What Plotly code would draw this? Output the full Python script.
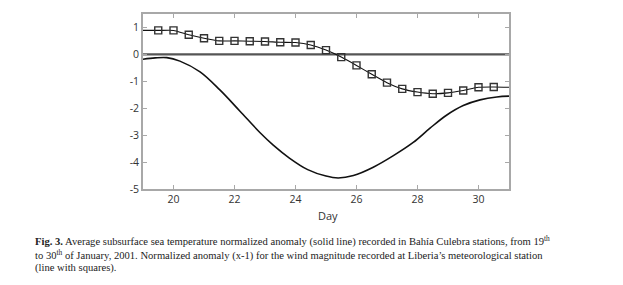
import plotly.graph_objects as go

# Solid line: average subsurface sea temperature normalized anomaly (sampled along curve)
sst_day = [19.0, 19.4, 19.78, 20.21, 20.87, 21.52, 22.18, 22.84, 23.27, 23.8, 24.4, 25.0,
           25.4, 25.9, 26.55, 27.21, 27.86, 28.41, 28.95, 29.5, 30.05, 30.6, 31.0]
sst_val = [-0.18, -0.13, -0.12, -0.25, -0.65, -1.32, -2.11, -2.91, -3.37, -3.85, -4.28, -4.52,
           -4.59, -4.50, -4.19, -3.76, -3.27, -2.74, -2.26, -1.90, -1.69, -1.58, -1.55]

# Line with squares: normalized wind magnitude anomaly (x-1)
wind_day = [19.0, 19.5, 20.0, 20.5, 21.0, 21.5, 22.0, 22.5, 23.0, 23.5, 24.0, 24.5, 25.0, 25.5,
            26.0, 26.5, 27.0, 27.5, 28.0, 28.5, 29.0, 29.5, 30.0, 30.5, 31.0]
wind_val = [0.89, 0.89, 0.89, 0.73, 0.60, 0.50, 0.50, 0.49, 0.48, 0.45, 0.44, 0.35, 0.16, -0.10,
            -0.41, -0.74, -1.05, -1.28, -1.40, -1.46, -1.43, -1.34, -1.22, -1.21, -1.22]

x_ticks = [20, 22, 24, 26, 28, 30]
y_ticks = [1, 0, -1, -2, -3, -4, -5]

caption_lines = [
    "<b>Fig. 3.</b> Average subsurface sea temperature normalized anomaly (solid line) recorded in Bahía Culebra stations, from 19<sup>th</sup>",
    "to 30<sup>th</sup> of January, 2001. Normalized anomaly (x-1) for the wind magnitude recorded at Liberia’s meteorological station",
    "(line with squares).",
]

# page body has an 8px default margin; figure is sized to fill the 623x285 window
W, H = 615, 277
L, R, T, B = 135, 114, 4, 96
PW, PH = W - L - R, H - T - B   # plot area size (366 x 177)
OFF = 8

fig = go.Figure()

# zero line
fig.add_hline(y=0, line=dict(color="#555555", width=2.2), layer="below")

fig.add_trace(go.Scatter(x=sst_day, y=sst_val, mode="lines",
                         line=dict(color="#111111", width=1.6, shape="spline", smoothing=1.0),
                         showlegend=False, hoverinfo="skip"))
fig.add_trace(go.Scatter(x=wind_day, y=wind_val, mode="lines",
                         line=dict(color="#111111", width=1.1, shape="spline", smoothing=0.6),
                         showlegend=False, hoverinfo="skip"))
fig.add_trace(go.Scatter(x=wind_day[1:-1], y=wind_val[1:-1], mode="markers",
                         marker=dict(symbol="square-open", size=7, color="#333333",
                                     line=dict(width=1.4, color="#333333")),
                         showlegend=False, hoverinfo="skip"))

axis_common = dict(showline=True, mirror="ticks", linecolor="#a8a8a8", linewidth=1.6,
                   ticks="inside", ticklen=4, tickcolor="#a8a8a8", tickwidth=1,
                   showgrid=False, zeroline=False,
                   tickfont=dict(family="Open Sans", size=10.5, color="#333333"))

fig.update_xaxes(range=[19, 31], tickvals=x_ticks, ticktext=[str(v) for v in x_ticks], **axis_common)
fig.update_yaxes(range=[-5, 1.5], tickvals=y_ticks, ticktext=[str(v) for v in y_ticks], **axis_common)


def px_x(ax):
    return (ax - OFF - L) / PW


def px_y(ay):
    return (H - B - (ay - OFF)) / PH


fig.add_annotation(text="Day", xref="paper", yref="paper", x=px_x(328), y=px_y(216),
                   xanchor="center", yanchor="middle", showarrow=False,
                   font=dict(family="Open Sans", size=11, color="#333333"))

cap_y = [241.5, 255.5, 269]
for line, yy in zip(caption_lines, cap_y):
    fig.add_annotation(text=line, xref="paper", yref="paper",
                       x=px_x(33), y=px_y(yy), xanchor="left", yanchor="middle",
                       showarrow=False, align="left",
                       font=dict(family="Liberation Serif", size=10.6, color="#222222"))

fig.update_layout(width=W, height=H, margin=dict(l=L, r=R, t=T, b=B),
                  paper_bgcolor="white", plot_bgcolor="white")

fig.write_html("out.html")
